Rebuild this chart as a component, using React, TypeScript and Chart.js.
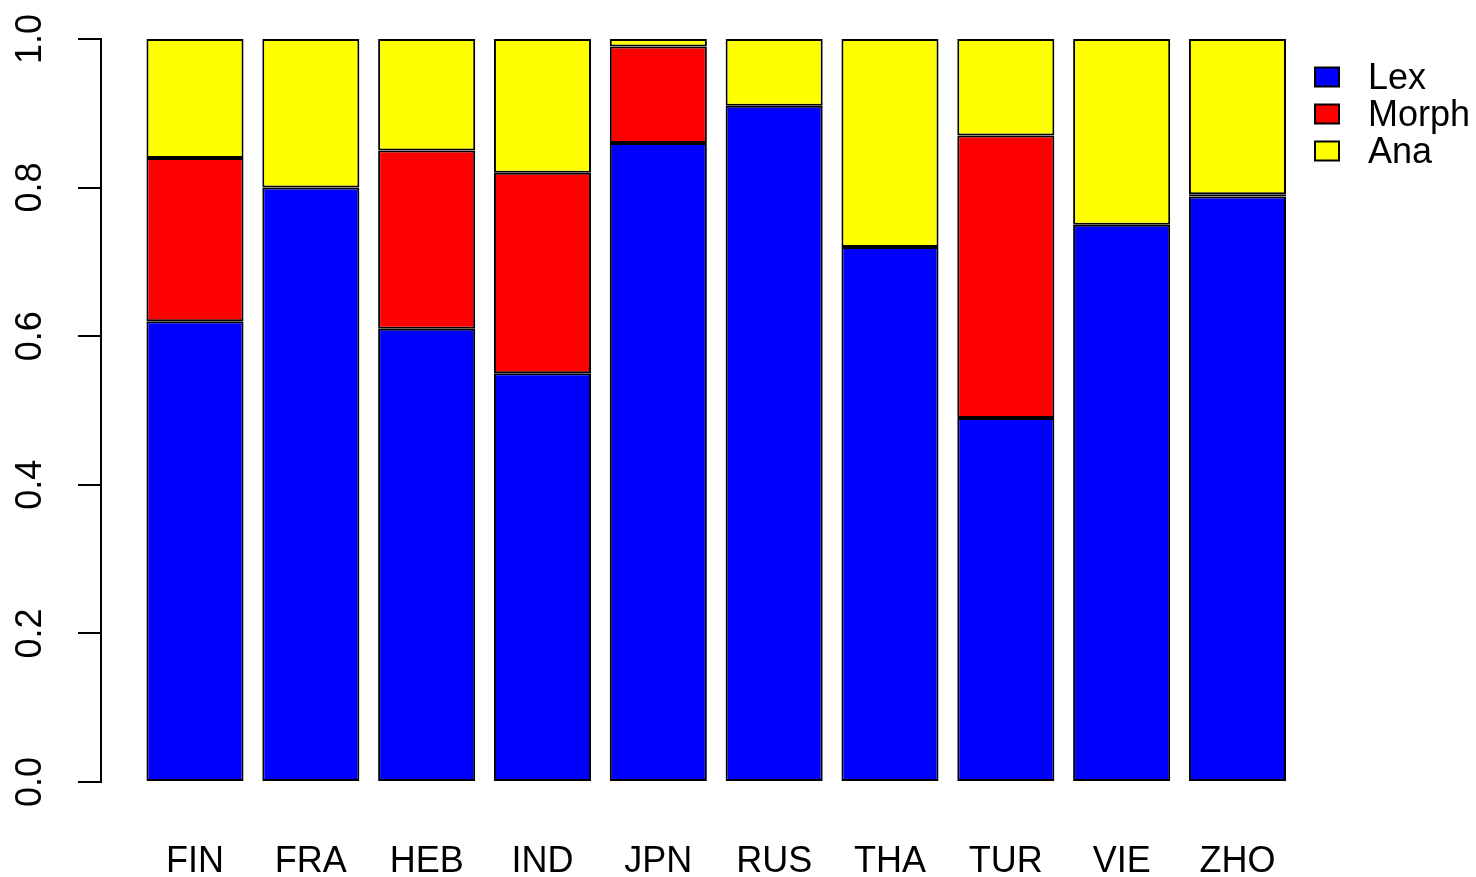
import React, { useEffect, useRef } from "react";
import { Chart, registerables } from "chart.js";

Chart.register(...registerables);

const categories = ["FIN", "FRA", "HEB", "IND", "JPN", "RUS", "THA", "TUR", "VIE", "ZHO"];
const lexValues = [0.62, 0.8, 0.61, 0.55, 0.86, 0.91, 0.72, 0.49, 0.75, 0.788];
const morphValues = [0.22, 0.0, 0.24, 0.27, 0.13, 0.0, 0.0, 0.38, 0.0, 0.003];
const anaValues = [0.16, 0.2, 0.15, 0.18, 0.01, 0.09, 0.28, 0.13, 0.25, 0.209];
const yTicks = [0, 0.2, 0.4, 0.6, 0.8, 1.0];
const seriesNames = ["Lex", "Morph", "Ana"];
const seriesColors = ["#0000FF", "#FF0000", "#FFFF00"];

const FONT = "'Liberation Sans', Arial, sans-serif";

const legendPlugin = {
  id: "rLegend",
  afterDraw(chart: any) {
    const ctx = chart.ctx;
    ctx.save();
    const boxX = 1315;
    const boxW = 24;
    const boxH = 19;
    const centers = [77, 114, 151];
    ctx.font = `36px ${FONT}`;
    ctx.textBaseline = "middle";
    ctx.textAlign = "left";
    seriesNames.forEach((name, i) => {
      const cy = centers[i];
      ctx.fillStyle = seriesColors[i];
      ctx.fillRect(boxX, cy - boxH / 2, boxW, boxH);
      ctx.strokeStyle = "#000";
      ctx.lineWidth = 2;
      ctx.strokeRect(boxX, cy - boxH / 2, boxW, boxH);
      ctx.fillStyle = "#000";
      ctx.fillText(name, 1368, cy + 2);
    });
    ctx.restore();
  },
};

const zeroPad = (scale: any) => {
  scale.paddingTop = 0;
  scale.paddingBottom = 0;
  scale.paddingLeft = 0;
  scale.paddingRight = 0;
};

export default function App() {
  const ref = useRef<HTMLCanvasElement>(null);
  useEffect(() => {
    document.body.style.margin = "0";
    const mk = (vals: number[]) => vals.map((v, i) => ({ x: i, y: v }));
    const datasets = [lexValues, morphValues, anaValues].map((vals, i) => ({
      label: seriesNames[i],
      data: mk(vals),
      backgroundColor: seriesColors[i],
      borderColor: "#000",
      borderWidth: 2,
      borderSkipped: false,
      barPercentage: 0.838,
      categoryPercentage: 1,
    }));
    const chart = new Chart(ref.current!, {
      type: "bar",
      data: { datasets },
      plugins: [legendPlugin],
      options: {
        animation: false,
        responsive: false,
        layout: { padding: { top: 39, right: 180.6, left: 0, bottom: 0 } },
        plugins: { legend: { display: false }, tooltip: { enabled: false } },
        scales: {
          x: {
            type: "linear",
            stacked: true,
            offset: false,
            min: -0.8115,
            max: 9.5,
            grid: { display: false, drawTicks: false, offset: false },
            border: { display: false },
            afterBuildTicks: (scale: any) => {
              scale.ticks = categories.map((_, i) => ({ value: i }));
            },
            afterFit: (scale: any) => {
              scale.height = 95;
              zeroPad(scale);
            },
            ticks: {
              autoSkip: false,
              maxRotation: 0,
              minRotation: 0,
              padding: 58,
              color: "#000",
              font: { family: FONT, size: 36 },
              callback: (v: any) => categories[v] ?? "",
            },
          },
          y: {
            stacked: true,
            min: 0,
            max: 1,
            afterBuildTicks: (scale: any) => {
              scale.ticks = yTicks.map((v) => ({ value: v }));
            },
            afterFit: (scale: any) => {
              scale.width = 101;
              zeroPad(scale);
            },
            grid: {
              drawOnChartArea: false,
              drawTicks: true,
              tickLength: 23,
              color: "#000",
              lineWidth: 2,
            },
            border: { display: true, color: "#000", width: 2 },
            ticks: {
              minRotation: 90,
              maxRotation: 90,
              crossAlign: "center",
              padding: 22,
              color: "#000",
              font: { family: FONT, size: 36 },
              callback: (v: any) => Number(v).toFixed(1),
            },
          },
        },
      },
    } as any);
    return () => chart.destroy();
  }, []);
  return (
    <div style={{ width: 1476, height: 877 }}>
      <canvas ref={ref} width={1476} height={877} style={{ display: "block" }} />
    </div>
  );
}
